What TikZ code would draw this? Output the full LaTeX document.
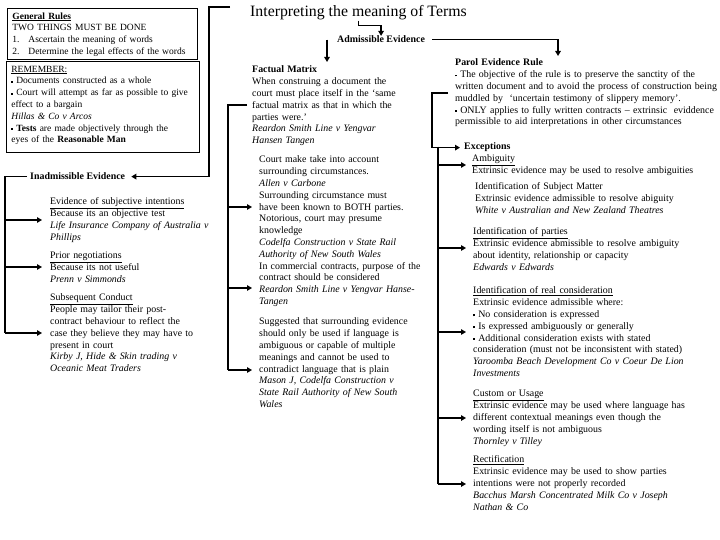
\documentclass[tikz,border=0pt]{standalone}
\usepackage{fontspec}
\setmainfont{Liberation Serif}
\usetikzlibrary{arrows.meta, calc}

\newcommand{\pb}{\raisebox{.28ex}{\rule{1.8bp}{1.8bp}}\ }

\tikzset{
  blk/.style={anchor=north west, inner sep=0pt, align=left, text width=#1,
    font=\fontsize{9.9bp}{11.8bp}\selectfont, execute at begin node=\strut},
  blk/.default=270bp,
  box/.style={blk=#1, draw, line width=0.8bp, inner xsep=5bp, inner ysep=2.5bp,
    font=\fontsize{9.5bp}{11.8bp}\selectfont},
  lbl/.style={anchor=base west, inner sep=0pt, font=\fontsize{9.9bp}{11.8bp}\selectfont\bfseries},
  link/.style={line width=1.6bp},
  arr/.style={link, -{Triangle[length=5bp, width=5.5bp]}},
}

\begin{document}
\begin{tikzpicture}[x=1bp, y=-1bp]
  \useasboundingbox (0,0) rectangle (720,540);

  % ---- left column: general rules and inadmissible evidence ----
  \node[box=180bp] (general) at (7,8)
    {\underline{\textbf{General Rules}}\\
     TWO THINGS MUST BE DONE\\
     \makebox[16bp][l]{1.}Ascertain the meaning of words\\
     \makebox[16bp][l]{2.}Determine the legal effects of the words};
  \node[box=183bp, text depth=78bp] (remember) at (6,61)
    {\underline{REMEMBER:}\\
     \pb Documents constructed as a whole\\
     \pb Court will attempt as far as possible to give\\
     effect to a bargain\\
     \textit{Hillas \& Co v Arcos}\\
     \pb \textbf{Tests} are made objectively through the\\
     eyes of the \textbf{Reasonable Man}};
  \node[lbl] (inadm) at (30,180) {Inadmissible Evidence};
  \node[blk] (subjint) at (50,196.5)
    {\underline{Evidence of subjective intentions}\\
     Because its an objective test\\
     \textit{Life Insurance Company of Australia v}\\
     \textit{Phillips}};
  \node[blk] (priorneg) at (50,250.5)
    {\underline{Prior negotiations}\\
     Because its not useful\\
     \textit{Prenn v Simmonds}};
  \node[blk] (subseq) at (50,292.5)
    {\underline{Subsequent Conduct}\\
     People may tailor their post-\\
     contract behaviour to reflect the\\
     case they believe they may have to\\
     present in court\\
     \textit{Kirby J, Hide \& Skin trading v}\\
     \textit{Oceanic Meat Traders}};

  % ---- middle column: admissible evidence ----
  \node[anchor=base west, inner sep=0pt, font=\fontsize{15.8bp}{19bp}\selectfont]
    (title) at (250,17) {Interpreting the meaning of Terms};
  \node[lbl] (admiss) at (337,43) {Admissible Evidence};
  \node[blk] (factual) at (252,64.5)
    {\textbf{Factual Matrix}\\
     When construing a document the\\
     court must place itself in the `same\\
     factual matrix as that in which the\\
     parties were.'\\
     \textit{Reardon Smith Line v Yengvar}\\
     \textit{Hansen Tangen}};
  \node[blk] (court) at (259,154.5)
    {Court make take into account\\
     surrounding circumstances.\\
     \textit{Allen v Carbone}\\
     Surrounding circumstance must\\
     have been known to BOTH parties.\\
     Notorious, court may presume\\
     knowledge\\
     \textit{Codelfa Construction v State Rail}\\
     \textit{Authority of New South Wales}\\
     In commercial contracts, purpose of the\\
     contract should be considered\\
     \textit{Reardon Smith Line v Yengvar Hanse-}\\
     \textit{Tangen}};
  \node[blk] (suggested) at (259,316.5)
    {Suggested that surrounding evidence\\
     should only be used if language is\\
     ambiguous or capable of multiple\\
     meanings and cannot be used to\\
     contradict language that is plain\\
     \textit{Mason J, Codelfa Construction v}\\
     \textit{State Rail Authority of New South}\\
     \textit{Wales}};

  % ---- right column: parol evidence rule and exceptions ----
  \node[blk] (parol) at (455,57.5)
    {\textbf{Parol Evidence Rule}\\
     \pb The objective of the rule is to preserve the sanctity of the\\
     written document and to avoid the process of construction being\\
     muddled by \ `uncertain testimony of slippery memory'.\\
     \pb ONLY applies to fully written contracts -- extrinsic \ eviddence\\
     permissible to aid interpretations in other circumstances};
  \node[lbl] (exceptions) at (464,150) {Exceptions};
  \node[blk] (ambiguity) at (472,153.5)
    {\underline{Ambiguity}\\
     Extrinsic evidence may be used to resolve ambiguities};
  \node[blk] (subject) at (475,181.5)
    {Identification of Subject Matter\\
     Extrinsic evidence admissible to resolve abiguity\\
     \textit{White v Australian and New Zealand Theatres}};
  \node[blk] (parties) at (473,226.5)
    {\underline{Identification of parties}\\
     Extrinsic evidence abmissible to resolve ambiguity\\
     about identity, relationship or capacity\\
     \textit{Edwards v Edwards}};
  \node[blk] (realcons) at (473,285.5)
    {\underline{Identification of real consideration}\\
     Extrinsic evidence admissible where:\\
     \pb No consideration is expressed\\
     \pb Is expressed ambiguously or generally\\
     \pb Additional consideration exists with stated\\
     consideration (must not be inconsistent with stated)\\
     \textit{Yaroomba Beach Development Co v Coeur De Lion}\\
     \textit{Investments}};
  \node[blk] (custom) at (473,388.5)
    {\underline{Custom or Usage}\\
     Extrinsic evidence may be used where language has\\
     different contextual meanings even though the\\
     wording itself is not ambiguous\\
     \textit{Thornley v Tilley}};
  \node[blk] (rectif) at (473,454.5)
    {\underline{Rectification}\\
     Extrinsic evidence may be used to show parties\\
     intentions were not properly recorded\\
     \textit{Bacchus Marsh Concentrated Milk Co v Joseph}\\
     \textit{Nathan \& Co}};

  % ---- connectors ----
  \coordinate (gtop) at (230,7);
  \draw[arr] (gtop) -- (209,7) |- ([xshift=6bp]inadm.east);
  \draw[arr] (title.south) -- ++(0,5) -| (admiss.north);
  \coordinate (fmtop) at (327,62);
  \draw[arr] (fmtop |- admiss.west) -- (fmtop);
  \coordinate (pe-in) at (558,56);
  \draw[arr] ([xshift=7bp]admiss.east) -| (pe-in);

  % left bracket
  \coordinate (lspine) at ([xshift=-25bp]inadm.west);
  \foreach \nm/\y in {si/220, pn/267, sc/333}
    \coordinate (\nm-in) at (42,\y);
  \draw[link] ([xshift=-3bp]inadm.west) -- (lspine) -- (lspine |- sc-in);
  \foreach \nm in {si, pn, sc}
    \draw[arr] (lspine |- \nm-in) -- (\nm-in);

  % middle bracket
  \coordinate (mspine) at (228,105);
  \coordinate (fm-in) at (247,105);
  \foreach \nm/\y in {ct/207, cs/288, sg/370}
    \coordinate (\nm-in) at (252,\y);
  \draw[link] (fm-in) -| (mspine |- sg-in);
  \foreach \nm in {ct, cs, sg}
    \draw[arr] (mspine |- \nm-in) -- (\nm-in);

  % right brackets
  \coordinate (rtop) at (432,93);
  \coordinate (pe-out) at (448,93);
  \draw[arr] (pe-out) -- (rtop) |- ([xshift=-4bp]exceptions.west);
  \coordinate (bspine) at (438,146.6);
  \foreach \nm/\y in {am/165, ip/248, rc/332, cu/418, re/484}
    \coordinate (\nm-in) at (466,\y);
  \draw[link] (bspine) -- (bspine |- re-in);
  \foreach \nm in {am, ip, rc, cu, re}
    \draw[arr] (bspine |- \nm-in) -- (\nm-in);
\end{tikzpicture}
\end{document}
